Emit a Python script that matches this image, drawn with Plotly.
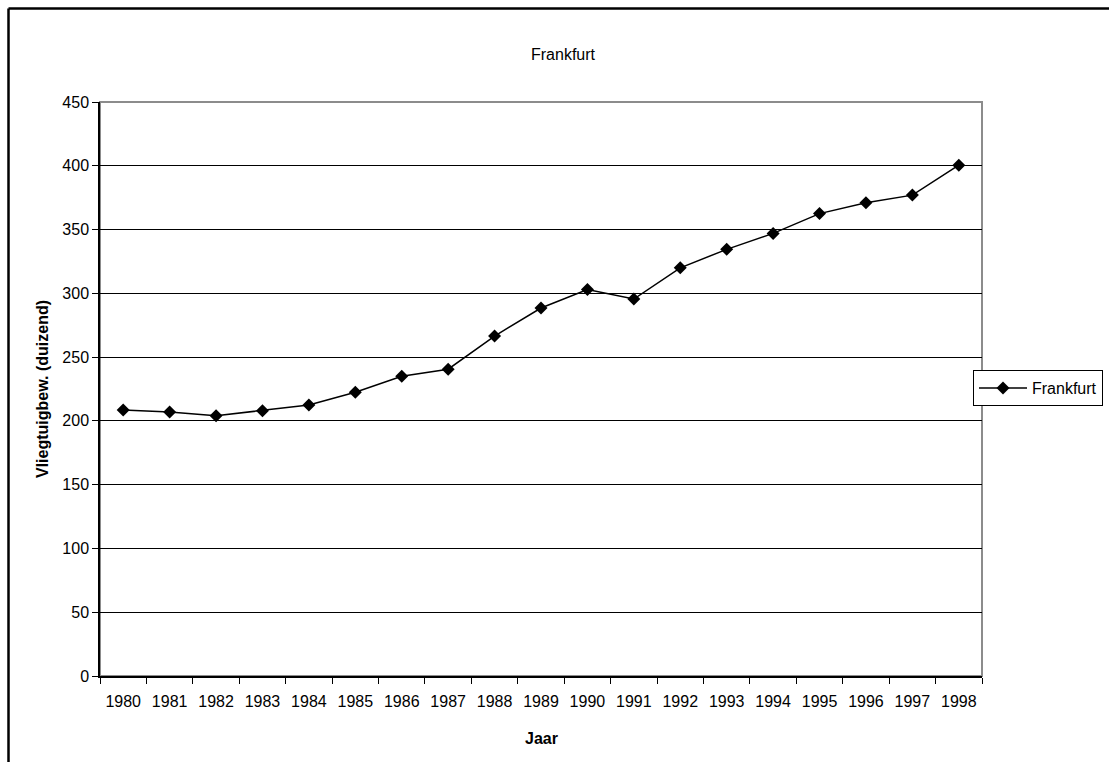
import plotly.graph_objects as go

# Aircraft movements at Frankfurt airport (thousands)
years = ["1980", "1981", "1982", "1983", "1984", "1985", "1986", "1987", "1988", "1989",
         "1990", "1991", "1992", "1993", "1994", "1995", "1996", "1997", "1998"]
movements = [208.5, 207, 204, 208, 212.5, 222.5, 235, 240.5, 266.5, 288.5,
             303, 295.5, 320, 334.5, 347, 362.5, 371, 377, 400.5]

y_ticks = [0, 50, 100, 150, 200, 250, 300, 350, 400, 450]

FONT = "Liberation Sans, Arial, sans-serif"
FS = 16

W, H = 1109, 762
L, R, T, B = 100, 982, 102, 676  # plot area in pixels


def px_x(x):
    return (x - L) / (R - L)


def px_y(y):
    return (B - y) / (B - T)


fig = go.Figure()
fig.add_trace(go.Scatter(
    x=years, y=movements, name="Frankfurt", mode="lines+markers",
    line=dict(color="black", width=1.5),
    marker=dict(symbol="diamond", size=10, color="black"),
    cliponaxis=False,
))

fig.update_layout(
    width=W, height=H,
    margin=dict(l=L, r=W - R, t=T, b=H - B, autoexpand=False),
    paper_bgcolor="white", plot_bgcolor="white",
    font=dict(family=FONT, size=FS, color="black"),
    showlegend=True,
    legend=dict(
        x=px_x(973), y=px_y(370), xanchor="left", yanchor="top",
        bgcolor="white", bordercolor="black", borderwidth=1,
        font=dict(family=FONT, size=FS, color="black"),
        itemwidth=48,
    ),
    xaxis=dict(
        type="category", tickson="boundaries", range=[-0.5, 18.5],
        showgrid=False, showline=True, linecolor="black", linewidth=1.5,
        ticks="outside", ticklen=6, tickcolor="black", tickwidth=1,
        tickfont=dict(family=FONT, size=FS, color="black"),
        ticklabelstandoff=10,
        zeroline=False,
    ),
    yaxis=dict(
        range=[0, 450], tickvals=y_ticks,
        showgrid=True, gridcolor="black", gridwidth=1,
        showline=True, linecolor="black", linewidth=1.5,
        ticks="outside", ticklen=6, tickcolor="black", tickwidth=1,
        tickfont=dict(family=FONT, size=FS, color="black"),
        zeroline=False,
    ),
    shapes=[
        # plot area border
        dict(type="rect", xref="paper", yref="paper", x0=0, x1=1, y0=0, y1=1,
             line=dict(color="#8c8c8c", width=2), layer="below"),
        # outer chart frame
        dict(type="line", xref="paper", yref="paper",
             x0=px_x(8.5), x1=px_x(8.5), y0=px_y(8.5), y1=px_y(780),
             line=dict(color="black", width=2.5)),
        dict(type="line", xref="paper", yref="paper",
             x0=px_x(8.5), x1=px_x(1130), y0=px_y(8.5), y1=px_y(8.5),
             line=dict(color="black", width=2.5)),
    ],
    annotations=[
        dict(text="Frankfurt", xref="paper", yref="paper",
             x=px_x(563), y=px_y(55), xanchor="center", yanchor="middle",
             showarrow=False, font=dict(family=FONT, size=FS, color="black")),
        dict(text="<b>Vliegtuigbew. (duizend)</b>", xref="paper", yref="paper",
             x=px_x(42), y=px_y(389), xanchor="center", yanchor="middle",
             textangle=-90, showarrow=False,
             font=dict(family=FONT, size=FS, color="black")),
        dict(text="<b>Jaar</b>", xref="paper", yref="paper",
             x=px_x(541), y=px_y(738), xanchor="center", yanchor="middle",
             showarrow=False, font=dict(family=FONT, size=FS, color="black")),
    ],
)

fig.write_html("out.html")
